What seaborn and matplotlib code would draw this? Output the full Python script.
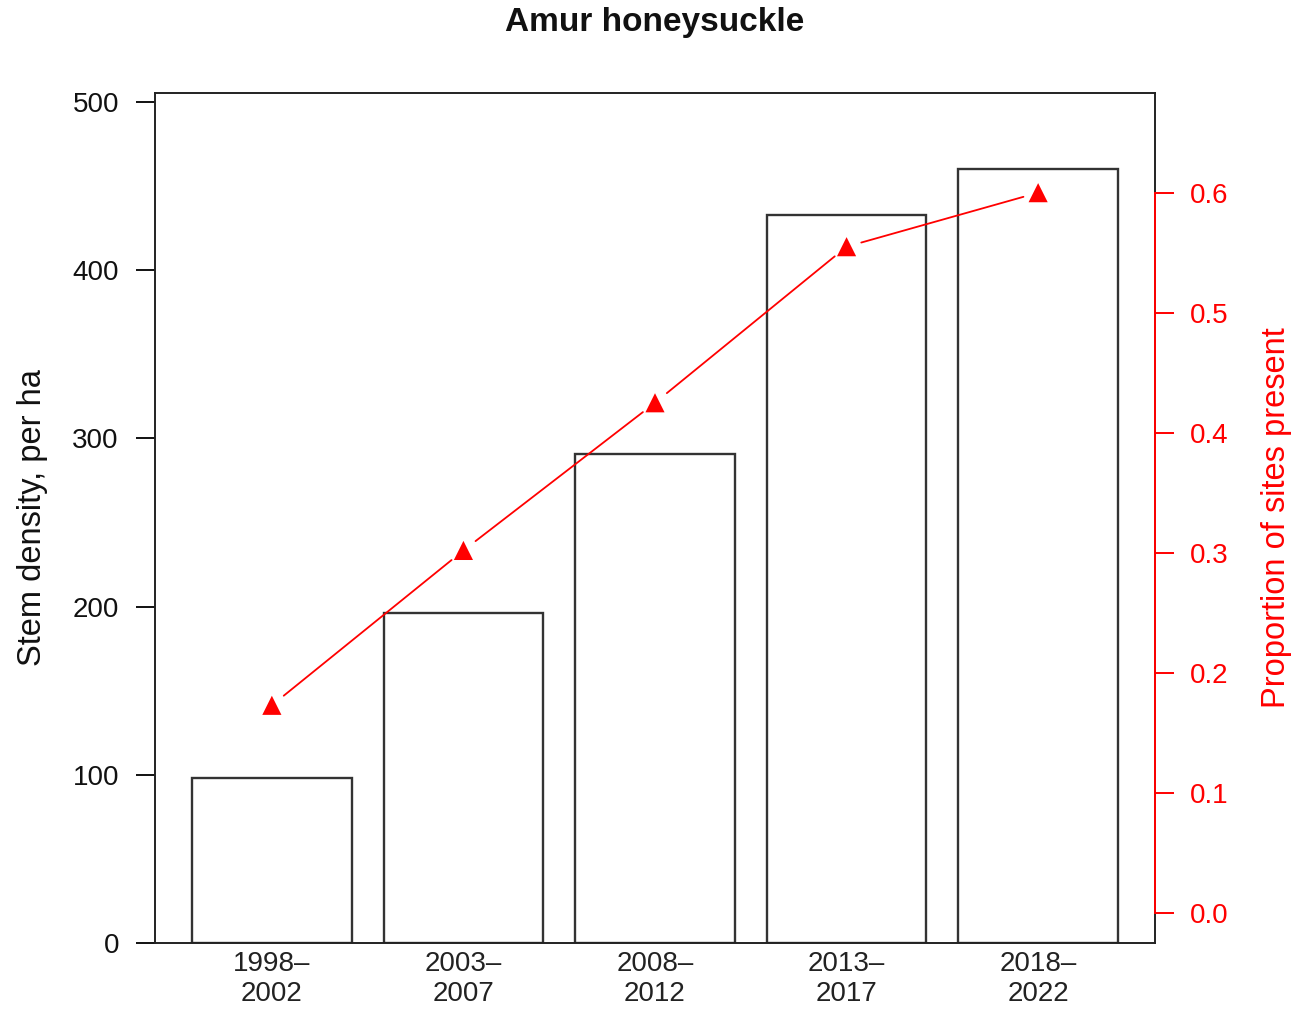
import numpy as np
import pandas as pd
import matplotlib
matplotlib.use("Agg")
import matplotlib.pyplot as plt
import seaborn as sns

# données
periodes = ["1998\u2013\n2002", "2003\u2013\n2007", "2008\u2013\n2012", "2013\u2013\n2017", "2018\u2013\n2022"]
densite_tiges = [98, 196, 291, 433, 460]        # tiges par ha
prop_sites = [0.173, 0.302, 0.425, 0.555, 0.600]  # proportion de sites

df = pd.DataFrame({"periode": periodes, "densite": densite_tiges, "prop": prop_sites})

sns.set_style("ticks")
plt.rcParams["font.family"] = ["Liberation Sans", "DejaVu Sans"]

fig = plt.figure(figsize=(12.96, 10.09), dpi=100)
ax = fig.add_axes([0.1196, 0.0654, 0.7716, 0.8424])

# barres
sns.barplot(data=df, x="periode", y="densite", ax=ax, color="white", saturation=1,
            edgecolor="#333333", linewidth=1.7, width=0.833)
ax.set_xlim(-0.61, 4.61)
ax.set_ylim(0, 505.4)
ax.set_yticks([0, 100, 200, 300, 400, 500])
ax.tick_params(axis="y", length=14, width=1.4, pad=12, labelsize=20, colors="#111111")
ax.tick_params(axis="x", length=0, pad=6, labelsize=20, labelcolor="#222222")
for lab in ax.get_xticklabels():
    lab.set_linespacing(1.2)
for s in ax.spines.values():
    s.set_visible(True)
    s.set_color("#222222")
    s.set_linewidth(1.4)
ax.set_xlabel("")
ax.set_ylabel("Stem density, per ha", fontsize=23.5, color="#111111")
ax.yaxis.set_label_coords(-0.107, 0.5)

# axe de droite : proportion de sites
ax2 = ax.twinx()
ax2.set_ylim(-0.025, 0.683)
x_pos = np.arange(len(periodes))
sns.scatterplot(x=x_pos, y=prop_sites, ax=ax2, marker="^", color="red", s=190,
                edgecolor="none", zorder=5, legend=False)
for i in range(len(x_pos) - 1):
    ax2.annotate("", xy=(x_pos[i + 1], prop_sites[i + 1]), xytext=(x_pos[i], prop_sites[i]),
                 arrowprops=dict(arrowstyle="-", color="red", lw=1.3, shrinkA=11, shrinkB=11))
ax2.set_yticks([0.0, 0.1, 0.2, 0.3, 0.4, 0.5, 0.6])
ax2.set_yticklabels(["0.0", "0.1", "0.2", "0.3", "0.4", "0.5", "0.6"])
ax2.tick_params(axis="y", length=14, width=1.4, pad=11, labelsize=20, colors="red")
for k in ["top", "bottom", "left"]:
    ax2.spines[k].set_visible(False)
ax2.spines["right"].set_bounds(0, 0.6)
ax2.spines["right"].set_color("red")
ax2.spines["right"].set_linewidth(1.4)
ax2.set_ylabel("Proportion of sites present", fontsize=23.5, color="red")
ax2.yaxis.set_label_coords(1.106, 0.5)

fig.text(0.505, 1 - 22 / 1009, "Amur honeysuckle", ha="center", va="center",
         fontsize=24, fontweight="bold", color="#111111")

fig.savefig("out.png", dpi=100)
